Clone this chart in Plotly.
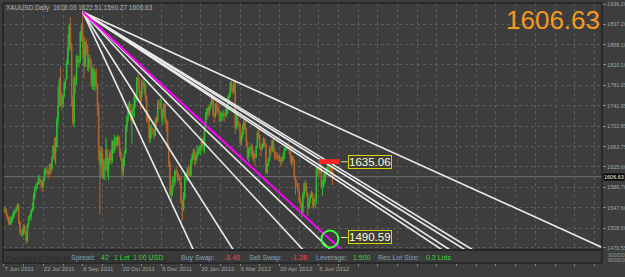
import plotly.graph_objects as go

# ---------------- data ----------------
DATE_LABELS = ["7 Jun 2011", "22 Jul 2011", "6 Sep 2011", "20 Oct 2011", "5 Dec 2011",
               "20 Jan 2012", "6 Mar 2012", "20 Apr 2012", "5 Jun 2012"]
DATE_IDX = [0, 32, 64, 96, 128, 160, 192, 224, 256]

FIRST_OPEN = 1541.0
LAST_OPEN = 1618.03

CLOSE = [
    # Jun 2011
    1544, 1543, 1531, 1529, 1516, 1523, 1529, 1530, 1539, 1541, 1545, 1552, 1521, 1501, 1498, 1502, 1512, 1500,
    # Jul
    1485, 1514, 1529, 1530, 1542, 1546, 1568, 1583, 1587, 1594, 1603, 1600, 1596, 1586, 1601, 1615, 1619, 1615, 1614, 1628,
    # Aug
    1622, 1643, 1665, 1652, 1663, 1714, 1742, 1792, 1758, 1744, 1761, 1785, 1793, 1822, 1852,
    1894, 1860, 1756, 1710, 1794, 1791, 1837, 1825, 1828, 1883,
    # Sep
    1896, 1872, 1817, 1862, 1856, 1815, 1831, 1826, 1782, 1812, 1780, 1805, 1780, 1740, 1656, 1629, 1652, 1617, 1622, 1624,
    # Oct
    1658, 1618, 1640, 1651, 1637, 1674, 1660, 1681, 1667, 1682, 1676, 1654, 1640, 1616, 1642, 1652, 1701, 1720, 1741, 1745, 1714,
    # Nov + Dec 1-2
    1733, 1737, 1760, 1753, 1795, 1790, 1767, 1758, 1788, 1780, 1781, 1760, 1717, 1723,
    1680, 1699, 1696, 1696, 1684, 1714, 1712, 1746, 1745, 1746,
    # Dec
    1723, 1732, 1745, 1712, 1712, 1665, 1632, 1572, 1576, 1598, 1595, 1618, 1616, 1606, 1606, 1595, 1556, 1544, 1565,
    # Jan 2012
    1602, 1611, 1618, 1616, 1609, 1639, 1648, 1655, 1638, 1645, 1654, 1660, 1657, 1665, 1678, 1664, 1700, 1724, 1737, 1731, 1740,
    # Feb
    1746, 1760, 1726, 1722, 1746, 1738, 1732, 1723, 1724, 1722, 1727, 1726, 1725, 1736, 1758, 1762, 1786, 1776, 1770, 1787, 1700,
    # Mar
    1721, 1708, 1705, 1673, 1683, 1698, 1712, 1698, 1674, 1644, 1658, 1658, 1664, 1648, 1650, 1643, 1663, 1690, 1685, 1661, 1660, 1669,
    # Apr
    1677, 1670, 1614, 1630, 1640, 1660, 1657, 1675, 1660, 1650, 1650, 1643, 1641, 1642, 1636, 1640, 1644, 1660, 1663, 1664,
    # May
    1663, 1653, 1636, 1645, 1638, 1606, 1593, 1593, 1580, 1560, 1556, 1538, 1572, 1592, 1589, 1571, 1548, 1558, 1572, 1573, 1552, 1563, 1561,
    # Jun 2012
    1622, 1617, 1617, 1635, 1587, 1590, 1597, 1613, 1619, 1626, 1627, 1626, 1618, 1606.63,
]
HIGH = [
    1550, 1549, 1546, 1536, 1532, 1530, 1531, 1537, 1542, 1546, 1550, 1556, 1555, 1522, 1505, 1507, 1516, 1515,
    1503, 1517, 1531, 1536, 1545, 1557, 1575, 1589, 1593, 1597, 1609, 1610, 1603, 1601, 1605, 1623, 1624, 1626, 1620, 1632,
    1631, 1645, 1667, 1681, 1682, 1720, 1779, 1796, 1817, 1767, 1763, 1787, 1794, 1830, 1878,
    1899, 1911, 1862, 1760, 1800, 1798, 1840, 1837, 1837, 1884,
    1900, 1921, 1875, 1866, 1870, 1858, 1840, 1839, 1830, 1815, 1820, 1811, 1814, 1785, 1748, 1665, 1665, 1660, 1640, 1640,
    1681, 1660, 1643, 1656, 1660, 1678, 1675, 1687, 1681, 1685, 1687, 1683, 1660, 1641, 1645, 1658, 1705, 1724, 1748, 1752, 1745,
    1735, 1745, 1764, 1765, 1797, 1803, 1796, 1771, 1792, 1794, 1790, 1786, 1762, 1733,
    1720, 1705, 1706, 1700, 1697, 1719, 1722, 1754, 1753, 1757,
    1753, 1735, 1747, 1753, 1718, 1714, 1671, 1636, 1589, 1605, 1606, 1620, 1627, 1619, 1613, 1610, 1597, 1563, 1577,
    1612, 1614, 1625, 1630, 1626, 1641, 1651, 1660, 1660, 1650, 1667, 1663, 1667, 1668, 1680, 1684, 1710, 1730, 1738, 1745, 1742,
    1749, 1764, 1763, 1728, 1748, 1750, 1745, 1737, 1728, 1730, 1734, 1729, 1737, 1740, 1761, 1767, 1788, 1790, 1780, 1790, 1792,
    1727, 1726, 1713, 1707, 1690, 1706, 1716, 1714, 1701, 1674, 1663, 1665, 1671, 1667, 1656, 1651, 1666, 1693, 1699, 1688, 1666, 1670,
    1682, 1680, 1670, 1633, 1643, 1664, 1666, 1677, 1678, 1659, 1654, 1654, 1647, 1649, 1645, 1646, 1653, 1662, 1667, 1669,
    1673, 1665, 1655, 1648, 1646, 1640, 1609, 1601, 1594, 1584, 1568, 1558, 1577, 1597, 1600, 1595, 1576, 1566, 1575, 1580, 1577, 1565, 1575,
    1627, 1625, 1623, 1640, 1640, 1601, 1614, 1616, 1625, 1631, 1628, 1631, 1626, 1622.51,
]
LOW = [
    1537, 1535, 1528, 1522, 1513, 1514, 1515, 1520, 1526, 1535, 1538, 1543, 1516, 1496, 1493, 1492, 1495, 1497,
    1478, 1482, 1510, 1522, 1523, 1538, 1542, 1563, 1576, 1583, 1592, 1591, 1588, 1577, 1585, 1598, 1609, 1610, 1603, 1611,
    1610, 1616, 1640, 1636, 1630, 1663, 1705, 1740, 1740, 1733, 1738, 1758, 1773, 1794, 1820,
    1846, 1850, 1740, 1705, 1701, 1766, 1782, 1816, 1815, 1823,
    1865, 1835, 1795, 1818, 1839, 1808, 1807, 1811, 1778, 1772, 1772, 1770, 1774, 1723, 1636, 1535, 1604, 1605, 1602, 1600,
    1617, 1609, 1600, 1631, 1630, 1632, 1651, 1652, 1658, 1665, 1667, 1645, 1637, 1603, 1608, 1627, 1650, 1692, 1712, 1735, 1713,
    1670, 1707, 1720, 1739, 1750, 1775, 1756, 1735, 1751, 1775, 1765, 1752, 1708, 1711,
    1670, 1672, 1680, 1687, 1679, 1685, 1703, 1710, 1735, 1736,
    1712, 1706, 1719, 1705, 1692, 1660, 1625, 1569, 1562, 1570, 1585, 1590, 1611, 1597, 1600, 1590, 1555, 1523, 1541,
    1563, 1596, 1598, 1606, 1608, 1607, 1631, 1639, 1627, 1631, 1639, 1647, 1650, 1648, 1660, 1655, 1651, 1698, 1715, 1721, 1723,
    1735, 1743, 1721, 1710, 1719, 1727, 1727, 1710, 1712, 1711, 1715, 1711, 1721, 1720, 1727, 1750, 1758, 1769, 1763, 1765, 1688,
    1697, 1702, 1696, 1666, 1665, 1679, 1688, 1695, 1665, 1639, 1634, 1651, 1645, 1640, 1635, 1627, 1642, 1661, 1679, 1658, 1644, 1657,
    1663, 1663, 1613, 1611, 1626, 1635, 1648, 1653, 1653, 1639, 1639, 1639, 1636, 1635, 1626, 1630, 1636, 1640, 1656, 1657,
    1659, 1648, 1632, 1627, 1630, 1601, 1572, 1586, 1576, 1556, 1548, 1527, 1537, 1564, 1579, 1568, 1532, 1545, 1555, 1566, 1547, 1545, 1548,
    1554, 1607, 1606, 1612, 1584, 1570, 1585, 1594, 1609, 1614, 1615, 1612, 1614, 1590.27,
]

N = min(len(CLOSE), len(HIGH), len(LOW))
CLOSE, HIGH, LOW = CLOSE[:N], HIGH[:N], LOW[:N]
OPEN = [FIRST_OPEN] + CLOSE[:-1]
OPEN[-1] = LAST_OPEN
IDX = list(range(N))

# fan lines: origin (bar index, price) and end points (bar index, price)
FAN_ORIGIN = (64, 1921.0)
WHITE_ENDS = [(486, 1472.0), (400, 1440.0), (393.5, 1440.0), (380.3, 1440.0), (373.6, 1440.0),
              (277.5, 1440.0), (253.8, 1440.0), (193.7, 1440.0), (159.3, 1440.0)]
MAGENTA_END = (286.8, 1440.0)

Y_TICKS = [1936.20, 1897.20, 1858.10, 1820.10, 1781.05, 1741.95, 1702.85,
           1663.75, 1625.60, 1586.70, 1547.60, 1508.50, 1470.55]

BID = 1606.63
LEVEL_UPPER = 1635.06
LEVEL_LOWER = 1490.59
CIRCLE_PT = (265, 1487.5)
MARK_BAR = (256, 273)
MARK_PRICE = (1631, 1640)

HEADER = "XAUUSD,Daily  1618.03 1622.51 1590.27 1606.63"

LBL, GRN, RED = "#86a2b4", "#33d633", "#ff3b3b"
INFO = [("Spread:", LBL, 70), ("42", GRN, 100), ("1 Lot", GRN, 113), ("1.00 USD", GRN, 132),
        ("Buy Swap:", LBL, 180), ("-5.48", RED, 223), ("Sell Swap:", LBL, 248), ("-1.28", RED, 290),
        ("Leverage:", LBL, 315), ("1:500", GRN, 352), ("Rec.Lot Size:", LBL, 377), ("0.3 Lots", GRN, 425)]

# ---------------- layout geometry ----------------
W, H = 625, 277
ML, MR, MT, MB = 3, 23, 3, 14
PW = W - ML - MR
PH = H - MT - MB
MAIN_BOTTOM_PX = 250
main_dom0 = (H - MB - MAIN_BOTTOM_PX) / PH

X_RANGE = [-0.8, 486.2]
Y_RANGE = [1466.7, 1938.1]

BG = "#3d3d3d"
UP, DOWN = "#2dbe2d", "#b5652a"

fig = go.Figure()

fig.add_trace(go.Candlestick(
    x=IDX, open=OPEN, high=HIGH, low=LOW, close=CLOSE,
    increasing=dict(line=dict(color=UP, width=1), fillcolor=UP),
    decreasing=dict(line=dict(color=DOWN, width=1), fillcolor=DOWN),
    whiskerwidth=0, hoverinfo="skip", showlegend=False))

for ex, ey in WHITE_ENDS:
    fig.add_trace(go.Scatter(x=[FAN_ORIGIN[0], ex], y=[FAN_ORIGIN[1], ey], mode="lines",
                             line=dict(color="#ececec", width=1.6), hoverinfo="skip", showlegend=False))
fig.add_trace(go.Scatter(x=[FAN_ORIGIN[0], MAGENTA_END[0]], y=[FAN_ORIGIN[1], MAGENTA_END[1]], mode="lines",
                         line=dict(color="#ff00ff", width=2), hoverinfo="skip", showlegend=False))

fig.add_trace(go.Scatter(x=[CIRCLE_PT[0]], y=[CIRCLE_PT[1]], mode="markers",
                         marker=dict(symbol="circle-open", size=17, color="#3cff3c", line=dict(width=2, color="#3cff3c")),
                         hoverinfo="skip", showlegend=False))

shapes = []
shapes.append(dict(type="line", xref="paper", x0=0, x1=1, yref="y", y0=BID, y1=BID,
                   line=dict(color="#707070", width=1), layer="below"))
shapes.append(dict(type="rect", xref="x", yref="y", x0=MARK_BAR[0], x1=MARK_BAR[1], y0=MARK_PRICE[0], y1=MARK_PRICE[1],
                   fillcolor="#ff2424", line=dict(width=0)))
for lv in (LEVEL_UPPER, LEVEL_LOWER):
    shapes.append(dict(type="line", xref="x", yref="y", x0=274, x1=279.5, y0=lv, y1=lv,
                       line=dict(color="#e0e0a0", width=1)))
shapes.append(dict(type="rect", xref="paper", yref="paper", x0=0, x1=1, y0=0, y1=main_dom0,
                   fillcolor="#3b3b3b", line=dict(width=0)))
shapes.append(dict(type="line", xref="paper", yref="paper", x0=0, x1=1, y0=main_dom0, y1=main_dom0,
                   line=dict(color="#262626", width=2)))
shapes.append(dict(type="rect", xref="paper", yref="paper", x0=0, x1=1, y0=0, y1=1,
                   line=dict(color="#161616", width=1)))

FONT = "Liberation Sans, Arial, sans-serif"
ann = []
ann.append(dict(text=HEADER, xref="paper", yref="paper", x=0.002, y=(H - MB - 8) / PH,
                xanchor="left", yanchor="middle", showarrow=False,
                font=dict(family=FONT, size=6.5, color="#b4b4b4")))
ann.append(dict(text="1606.63", xref="paper", yref="paper", x=1.0, y=(H - MB - 20) / PH,
                xanchor="right", yanchor="middle", showarrow=False,
                font=dict(family=FONT, size=26, color="#f59a1c")))
for lv in (LEVEL_UPPER, LEVEL_LOWER):
    ann.append(dict(text="%.2f" % lv, xref="x", yref="y", x=280, y=lv, xanchor="left", yanchor="middle",
                    showarrow=False, bgcolor="#3d3d3d", bordercolor="#d6d600", borderwidth=1, borderpad=0,
                    font=dict(family=FONT, size=11.5, color="#ffffd0")))
ann.append(dict(text="%.2f" % BID, xref="paper", yref="y", x=1.0, y=BID, xanchor="left", yanchor="middle",
                xshift=1, showarrow=False, bgcolor="#000000", borderpad=0,
                font=dict(family=FONT, size=5.5, color="#ffffff")))
ann.append(dict(text="Copyright © 2001-2012, MetaQuotes Software Corp.", xref="paper", yref="paper",
                x=0.0, xshift=1, y=(H - MB - 259) / PH, xanchor="left", yanchor="middle", showarrow=False,
                font=dict(family=FONT, size=7, color="#262626")))
for t, c, px in INFO:
    ann.append(dict(text=t, xref="paper", yref="paper", x=(px - ML) / PW, y=(H - MB - 257.5) / PH,
                    xanchor="left", yanchor="middle", showarrow=False, borderpad=0,
                    font=dict(family=FONT, size=7, color=c)))
for t, py in (("900000", 254.5), ("9000000", 259.5)):
    ann.append(dict(text=t, xref="paper", yref="paper", x=1.0, xshift=4, y=(H - MB - py) / PH,
                    xanchor="left", yanchor="middle", showarrow=False,
                    font=dict(family=FONT, size=5, color="#9a9a9a")))

x_tickvals = list(range(0, 487, 16))
x_ticktext = [DATE_LABELS[DATE_IDX.index(v)] if v in DATE_IDX else "" for v in x_tickvals]

fig.update_layout(
    width=W, height=H, autosize=False,
    margin=dict(l=ML, r=MR, t=MT, b=MB, pad=0),
    paper_bgcolor=BG, plot_bgcolor=BG,
    shapes=shapes, annotations=ann, hovermode=False,
    xaxis=dict(range=X_RANGE, anchor="free", position=0, rangeslider=dict(visible=False),
               tickvals=x_tickvals, ticktext=x_ticktext, ticks="outside", ticklen=2, tickcolor="#8a8a8a",
               ticklabelposition="outside right", tickangle=0,
               tickfont=dict(family=FONT, size=6, color="#a4a4a4"),
               showgrid=True, gridcolor="#5c5c5c", griddash="dot", gridwidth=1,
               zeroline=False, showline=False, automargin=False, fixedrange=True),
    yaxis=dict(range=Y_RANGE, domain=[main_dom0, 1], side="right",
               tickvals=Y_TICKS, ticktext=["%.2f" % v for v in Y_TICKS],
               ticks="outside", ticklen=3, tickcolor="#8a8a8a",
               tickfont=dict(family=FONT, size=5.5, color="#a4a4a4"),
               showgrid=True, gridcolor="#5c5c5c", griddash="dot", gridwidth=1,
               zeroline=False, showline=False, automargin=False, fixedrange=True),
)

fig.write_html("out.html")
